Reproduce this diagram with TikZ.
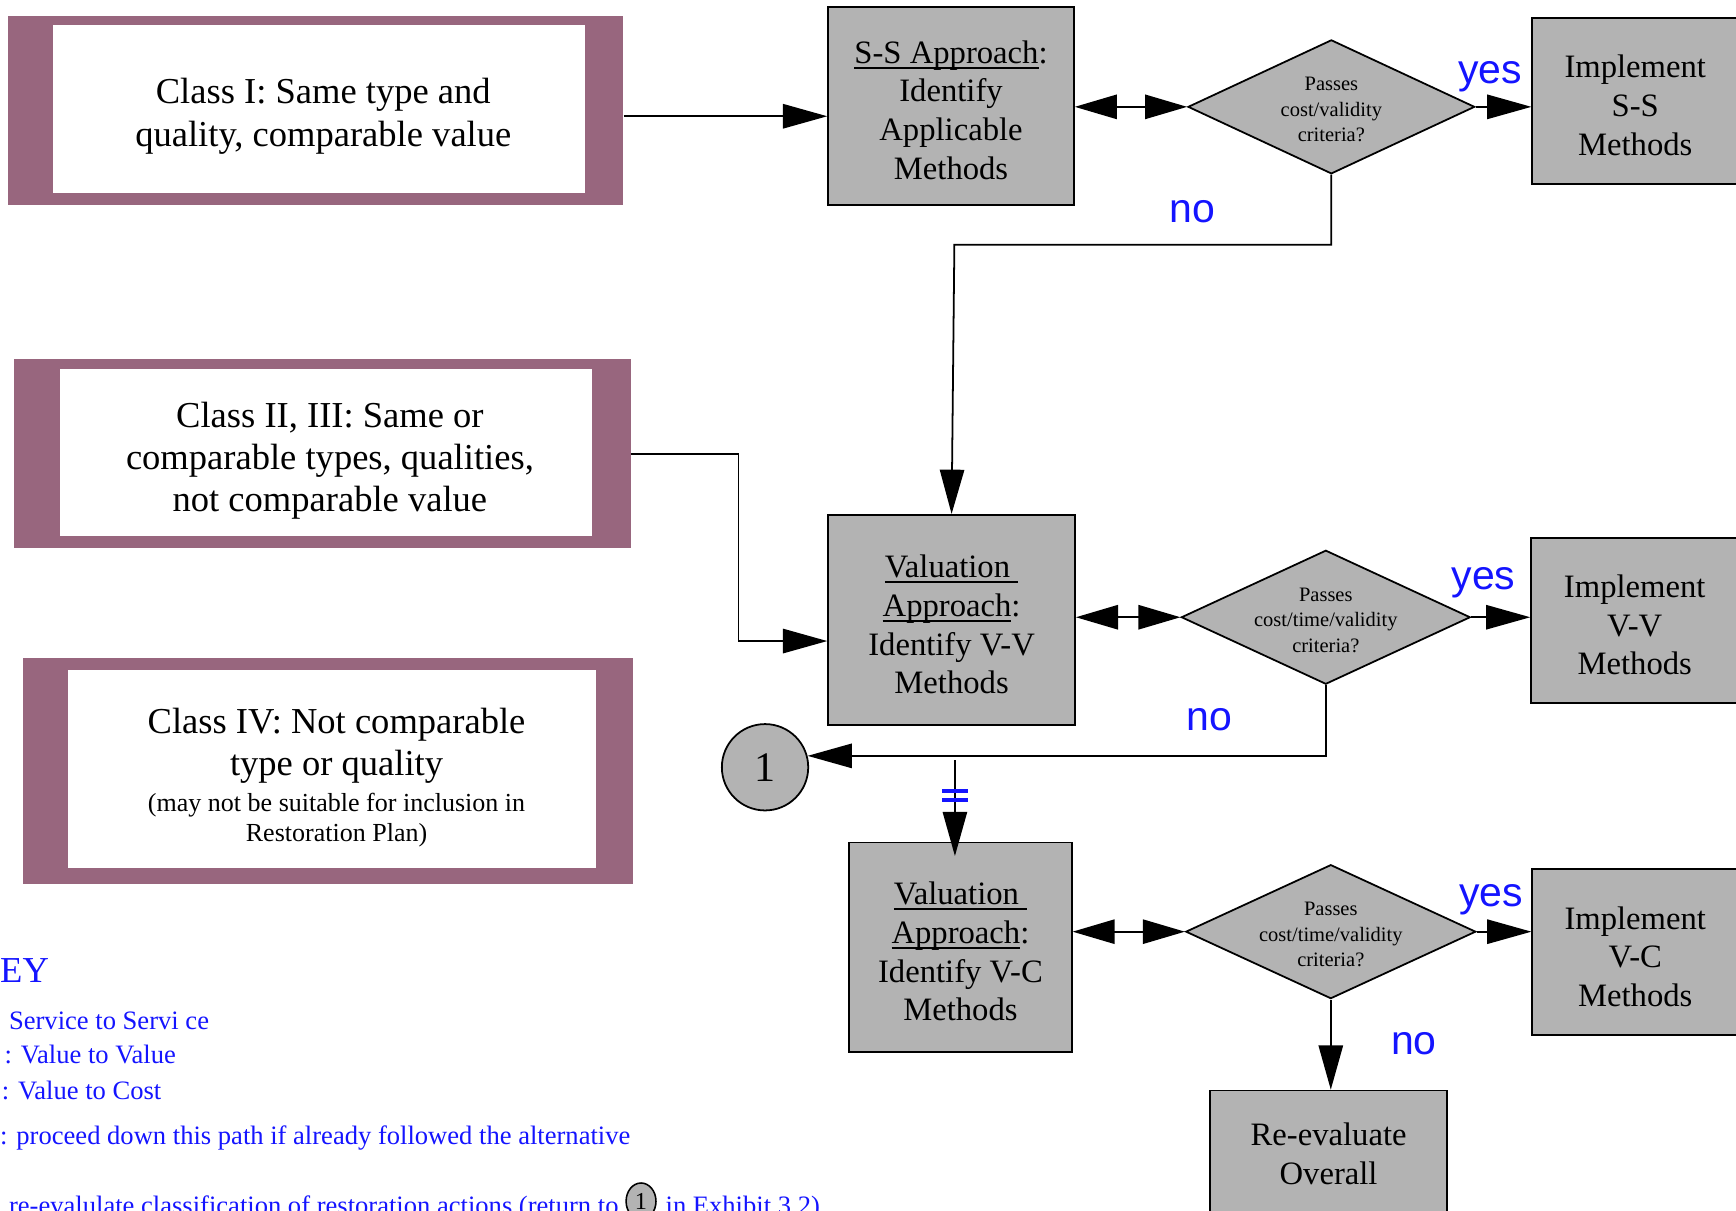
\documentclass[tikz,border=0pt]{standalone}
\usepackage{fontspec}
\setmainfont{Liberation Serif}
\newfontfamily\sansf{Liberation Sans}
\usetikzlibrary{arrows.meta,shapes.geometric}
\definecolor{mauve}{RGB}{152,102,126}
\definecolor{boxgray}{RGB}{179,179,179}
\definecolor{keyblue}{RGB}{20,20,255}
\newcommand\myul[1]{\leavevmode\setbox0\hbox{#1}\rlap{\rule[-5pt]{\wd0}{1.6pt}}\box0}
\newcommand\toplift{\rule{0pt}{28.5pt}}
\begin{document}
\begin{tikzpicture}[x=1pt,y=-1pt,
  outerbox/.style={rectangle,fill=mauve,draw=none,inner sep=0},
  innerbox/.style={rectangle,fill=white,draw=none,inner sep=0},
  classtext/.style={align=center,inner sep=0,font=\fontsize{33}{38}\selectfont},
  smalltext/.style={align=center,inner sep=0,font=\fontsize{23.5}{27}\selectfont},
  graybox/.style={rectangle,fill=boxgray,draw=black,line width=1.6pt,inner sep=0,align=center,font=\fontsize{29.5}{35}\selectfont},
  decision/.style={diamond,fill=boxgray,draw=black,line width=1.6pt,inner sep=0},
  dtext/.style={align=center,inner sep=0,yshift=-2.5pt,font=\fontsize{18.5}{23}\selectfont},
  conn/.style={line width=1.6pt},
  arr/.style={conn,-{Triangle[length=40pt,width=22pt]}},
  biarr/.style={conn,{Triangle[length=38pt,width=22pt]}-{Triangle[length=38pt,width=22pt]}},
  yn/.style={text=keyblue,inner sep=0,font=\sansf\fontsize{37}{40}\selectfont},
  keytext/.style={text=keyblue,inner sep=0,anchor=base west,font=\fontsize{24}{28}\selectfont}]
\useasboundingbox (0,0) rectangle (1568,1093);

% class boxes
\node[outerbox,minimum width=556pt,minimum height=171pt] (c1o) at (285,99.5) {};
\node[innerbox,minimum width=480pt,minimum height=151pt] (c1i) at (288,98.5) {};
\node[classtext] (c1t) at (292,105) {Class I: Same type and\\quality, comparable value};

\node[outerbox,minimum width=557pt,minimum height=171pt] (c2o) at (291.5,409.5) {};
\node[innerbox,minimum width=481pt,minimum height=151pt] (c2i) at (294.5,408.5) {};
\node[classtext] (c2t) at (298,416) {Class II, III: Same or\\comparable types, qualities,\\not comparable value};

\node[outerbox,minimum width=551pt,minimum height=204pt] (c4o) at (296.5,696) {};
\node[innerbox,minimum width=477pt,minimum height=179pt] (c4i) at (299.5,694.5) {};
\node[classtext] (c4a) at (304,674) {Class IV: Not comparable\\type or quality};
\node[smalltext] (c4b) at (304,741) {(may not be suitable for inclusion in\\Restoration Plan)};

% gray boxes
\node[graybox,minimum width=222pt,minimum height=179pt] (ss) at (859,95.5) {\toplift\myul{S-S Approach}:\\Identify\\Applicable\\Methods};
\node[graybox,minimum width=223pt,minimum height=190pt] (vv) at (859.5,560) {\toplift\myul{Valuation\ }\\\myul{Approach}:\\Identify V-V\\Methods};
\node[graybox,minimum width=201pt,minimum height=189pt] (vc) at (867.5,855.5) {\toplift\myul{Valuation\ }\\\myul{Approach}:\\Identify V-C\\Methods};
\node[graybox,minimum width=186pt,minimum height=150pt] (ims) at (1477,91) {\toplift Implement\\S-S\\Methods};
\node[graybox,minimum width=187pt,minimum height=149pt] (imv) at (1476.5,560.5) {\toplift Implement\\V-V\\Methods};
\node[graybox,minimum width=186pt,minimum height=150pt] (imc) at (1477,860) {\toplift Implement\\V-C\\Methods};
\node[graybox,minimum width=214pt,minimum height=114pt] (rv) at (1200,1042) {Re-evaluate\\Overall};

% decisions
\node[decision,minimum width=259pt,minimum height=121pt,
  label={[dtext]center:{Passes\\cost/validity\\criteria?}}] (d1) at (1202.5,96.5) {};
\node[decision,minimum width=261pt,minimum height=121pt,
  label={[dtext]center:{Passes\\cost/time/validity\\criteria?}}] (d2) at (1197.5,557.5) {};
\node[decision,minimum width=262pt,minimum height=121pt,
  label={[dtext]center:{Passes\\cost/time/validity\\criteria?}}] (d3) at (1202,841.5) {};

% connector circle
\node[circle,fill=boxgray,draw=black,line width=1.6pt,minimum size=78pt,inner sep=0,
  font=\fontsize{38}{40}\selectfont] (one) at (691,693) {1};

% helper coordinates
\coordinate (y105) at (0,105);
\coordinate (y410) at (0,410);
\coordinate (y579) at (0,579);
\coordinate (n1) at (862,221);
\coordinate (k2) at (667,410);
\coordinate (vcs) at (862.5,686.5);

% connectors
\draw[arr] (c1o.east |- y105) -- (ss.west |- y105);
\draw[biarr] (ss.east |- d1.west) -- (d1.west);
\draw[arr] (d1.east) -- (ims.west |- d1.east);
\draw[arr] (d1.south) |- (n1) -- (vv.north);

\draw[arr] (c2o.east |- y410) -- (k2) |- (vv.west |- y579);
\draw[biarr] (vv.east |- d2.west) -- (d2.west);
\draw[arr] (d2.east) -- (imv.west |- d2.east);
\draw[arr] (d2.south) |- (one.15);

\draw[arr,shorten >=-13pt] (vcs) -- (vcs |- vc.north);
\draw[keyblue,line width=3.6pt] (851,714) -- (874,714) (851,722.6) -- (874,722.6);

\draw[biarr] (vc.east |- d3.west) -- (d3.west);
\draw[arr] (d3.east) -- (imc.west |- d3.east);
\draw[arr] (d3.south) -- (d3.south |- rv.north);

% yes / no labels
\node[yn] (yes1) at (1346,69) {yes};
\node[yn] (yes2) at (1340,526) {yes};
\node[yn] (yes3) at (1347,813) {yes};
\node[yn] (no1) at (1077,191) {no};
\node[yn] (no2) at (1092,650) {no};
\node[yn] (no3) at (1277,943) {no};

% key
\node[text=keyblue,inner sep=0,anchor=base west,font=\fontsize{33}{36}\selectfont] (keyh) at (0,887) {EY};
\node[keytext] (key1) at (8,930) {Service to Servi ce};
\node[keytext] (key2) at (4,961) {: Value to Value};
\node[keytext] (key3) at (1.5,993) {: Value to Cost};
\node[keytext] (key4) at (0,1034) {: proceed down this path if already followed the alternative};
\node[keytext] (key5a) at (8,1097) {re-evalulate classification of restoration actions (return to};
\node[ellipse,fill=boxgray,draw=black,line width=1.4pt,minimum width=27pt,minimum height=33pt,inner sep=0,
  font=\fontsize{22}{24}\selectfont] (kone) at (579,1085) {1};
\node[keytext] (key5b) at (601,1097) {in Exhibit 3.2)};
\end{tikzpicture}
\end{document}
